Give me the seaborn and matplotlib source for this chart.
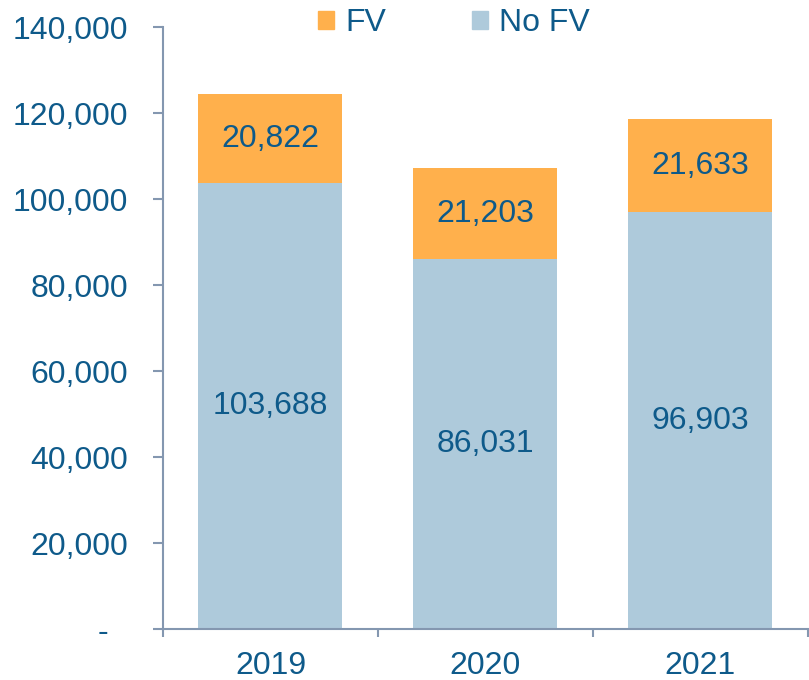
import matplotlib
matplotlib.use("Agg")
import matplotlib.pyplot as plt
import matplotlib.transforms as mtrans
import seaborn as sns
import pandas as pd
from matplotlib.patches import Patch
from matplotlib.ticker import FuncFormatter

years = ["2019", "2020", "2021"]
no_fv = [103688, 86031, 96903]
fv = [20822, 21203, 21633]

sns.set_style("white")
plt.rcParams['font.family'] = ['Liberation Sans', 'DejaVu Sans']

TXT = "#0E5A8A"
AX = "#8497B0"
C_FV = "#FFB04C"
C_NO = "#AECADB"
FS = 23

df = pd.DataFrame({"year": years, "no_fv": no_fv, "fv": fv})
df["total"] = df["no_fv"] + df["fv"]

fig = plt.figure(figsize=(8.09, 6.80), dpi=100)
ax = fig.add_axes([0.2015, 0.075, 0.797, 0.885])

sns.barplot(data=df, x="year", y="total", color=C_FV, width=0.67, ax=ax, saturation=1, linewidth=0)
sns.barplot(data=df, x="year", y="no_fv", color=C_NO, width=0.67, ax=ax, saturation=1, linewidth=0)

for i, (n, f) in enumerate(zip(no_fv, fv)):
    ax.text(i, n / 2, f"{n:,}", ha="center", va="center", fontsize=FS, color=TXT)
    ax.text(i, n + f / 2, f"{f:,}", ha="center", va="center", fontsize=FS, color=TXT)

ax.set_ylim(0, 140000)
ax.set_xlim(-0.5, 2.5)
ax.set_yticks(range(0, 140001, 20000))
ax.yaxis.set_major_formatter(FuncFormatter(lambda v, p: "-" if v == 0 else f"{int(v):,}"))
ax.set_xticks([0, 1, 2])
ax.set_xticks([-0.5, 0.5, 1.5, 2.5], minor=True)
ax.tick_params(axis="x", which="major", bottom=True, length=0, pad=16, labelsize=FS, labelcolor=TXT)
ax.tick_params(axis="x", which="minor", bottom=True, length=5.5, width=1.5, color=AX, direction="out")
ax.tick_params(axis="y", which="major", left=True, length=7.2, width=1.5, color=AX, direction="out",
               pad=18, labelsize=FS, labelcolor=TXT)
ax.set_xlabel("")
ax.set_ylabel("")
for s in ["top", "right"]:
    ax.spines[s].set_visible(False)
for s in ["left", "bottom"]:
    ax.spines[s].set_color(AX)
    ax.spines[s].set_linewidth(1.5)

fig.canvas.draw()
zero_lbl = ax.yaxis.get_major_ticks()[0].label1
zero_lbl.set_transform(zero_lbl.get_transform() + mtrans.ScaledTranslation(-0.2, 0, fig.dpi_scale_trans))

handles = [Patch(color=C_FV, label="FV"), Patch(color=C_NO, label="No FV")]
fig.legend(handles=handles, loc="center", bbox_to_anchor=(0.561, 0.966), ncol=2,
           frameon=False, fontsize=FS, labelcolor=TXT, handlelength=0.5,
           handleheight=0.5, handletextpad=0.35, columnspacing=2.7)

fig.savefig("out.png", dpi=100)
